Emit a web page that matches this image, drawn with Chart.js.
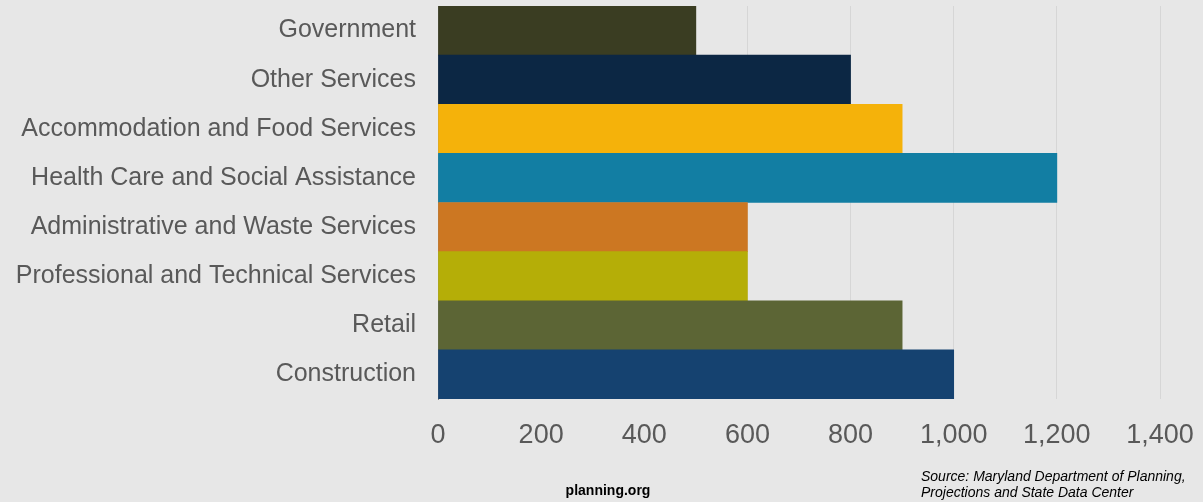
<!DOCTYPE html>
<html>
<head>
<meta charset="utf-8">
<script src="https://cdn.jsdelivr.net/npm/chart.js@4.4.1/dist/chart.umd.min.js"></script>
<style>
  html, body { margin: 0; padding: 0; background: #e7e7e7; }
  #wrap { width: 1203px; height: 502px; position: relative; }
</style>
</head>
<body>
<div id="wrap"><canvas id="jobsChart"></canvas></div>
<script>
// Industries (top to bottom) and job counts
const industries = [
    'Government',
    'Other Services',
    'Accommodation and Food Services',
    'Health Care and Social Assistance',
    'Administrative and Waste Services',
    'Professional and Technical Services',
    'Retail',
    'Construction'
];
const jobs = [500, 800, 900, 1200, 600, 600, 900, 1000];
const barColors = ['#3a3d22', '#0c2744', '#f5b20a', '#127ea3', '#cc7722', '#b5ae07', '#5c6535', '#154270'];
const xTicks = [0, 200, 400, 600, 800, 1000, 1200, 1400];

const footerText = {
    site: 'planning.org',
    source: ['Source: Maryland Department of Planning,', 'Projections and State Data Center']
};

// Grey page background + footer notes
const backdrop = {
    id: 'backdrop',
    beforeDraw(chart) {
        const c = chart.ctx;
        c.save();
        c.fillStyle = '#e7e7e7';
        c.fillRect(0, 0, chart.width, chart.height);
        c.restore();
    },
    afterDraw(chart) {
        const c = chart.ctx;
        c.save();
        c.fillStyle = '#000';
        c.font = 'bold 14px "Liberation Sans", Arial, sans-serif';
        c.textAlign = 'center';
        c.fillText(footerText.site, 608, 495);
        c.font = 'italic 14px "Liberation Sans", Arial, sans-serif';
        c.textAlign = 'left';
        c.fillText(footerText.source[0], 921, 481);
        c.fillText(footerText.source[1], 921, 497);
        c.restore();
    }
};

const labelFont = '"Liberation Sans", Arial, sans-serif';

new Chart(document.getElementById('jobsChart'), {
    type: 'bar',
    data: {
        labels: industries,
        datasets: [{
            data: jobs,
            backgroundColor: barColors,
            borderWidth: 0,
            barPercentage: 1,
            categoryPercentage: 1
        }]
    },
    options: {
        indexAxis: 'y',
        responsive: true,
        maintainAspectRatio: false,
        animation: false,
        layout: { padding: { top: 6, right: 43, left: 0, bottom: 0 } },
        scales: {
            x: {
                min: 0,
                max: 1400,
                afterBuildTicks(scale) {
                    scale.ticks = xTicks.map(v => ({ value: v }));
                },
                afterFit(scale) {
                    scale.height = 103;
                    scale.paddingLeft = 0;
                    scale.paddingRight = 0;
                },
                grid: { color: '#d6d6d6', drawTicks: false },
                border: { display: false },
                ticks: {
                    padding: 20,
                    color: '#595959',
                    font: { size: 27, family: labelFont },
                    callback: v => v.toLocaleString('en-US')
                }
            },
            y: {
                afterFit(scale) {
                    scale.width = 438;
                    scale.paddingTop = 0;
                    scale.paddingBottom = 0;
                },
                grid: { display: false, drawTicks: false },
                border: { display: true, color: '#8a8a8a', width: 1 },
                ticks: {
                    padding: 22,
                    color: '#595959',
                    font: { size: 25, family: labelFont }
                }
            }
        },
        plugins: {
            legend: { display: false },
            tooltip: { enabled: false }
        }
    },
    plugins: [backdrop]
});
</script>
</body>
</html>
